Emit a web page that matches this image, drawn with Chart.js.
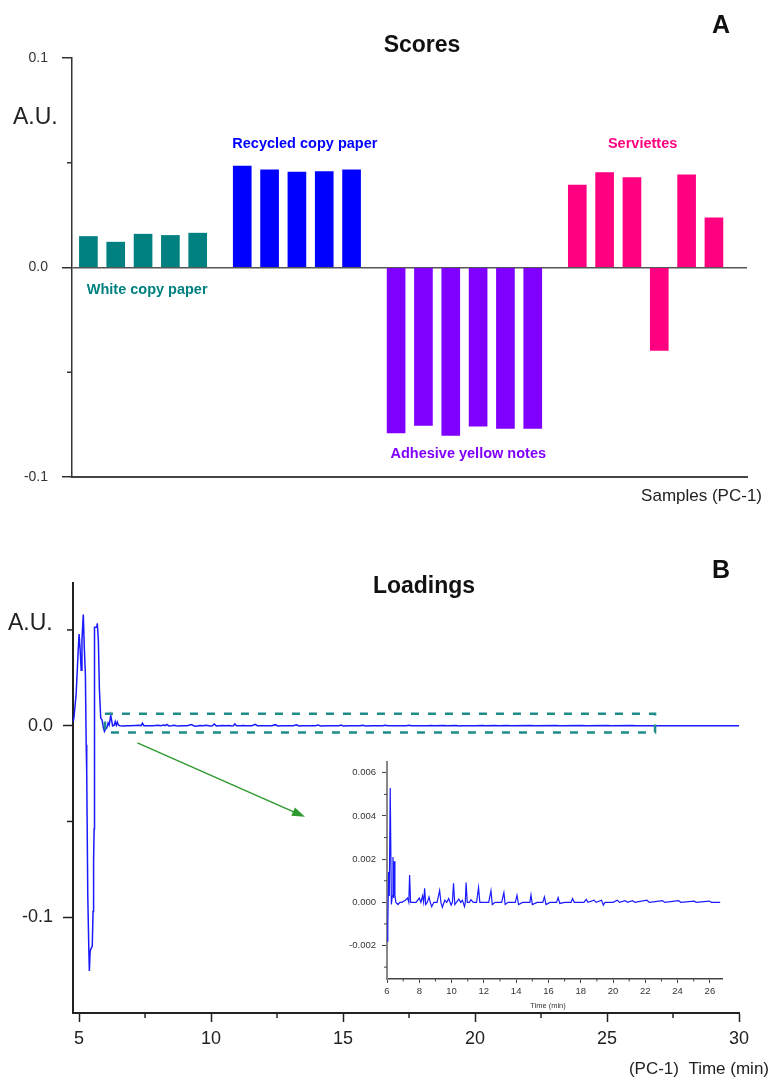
<!DOCTYPE html>
<html>
<head>
<meta charset="utf-8">
<script src="https://cdn.jsdelivr.net/npm/chart.js@4.4.1/dist/chart.umd.min.js"></script>
<style>
  body { margin: 0; background: #fff; }
  #wrap { position: relative; width: 771px; height: 1080px; }
  canvas { position: absolute; }
</style>
</head>
<body>
<div id="wrap">
  <canvas id="scores" width="771" height="510" style="left:0;top:0"></canvas>
  <canvas id="loadings" width="771" height="570" style="left:0;top:510px"></canvas>
  <canvas id="inset" width="400" height="265" style="left:330px;top:750px"></canvas>
</div>
<script>
// --- scores (PC-1), one array per sample group
var groupNames = ['White copy paper', 'Recycled copy paper', 'Adhesive yellow notes', 'Serviettes'];
var groupColors = ['#008080', '#0000ff', '#8000ff', '#ff0080'];
var whiteCopy = [0.0148, 0.0121, 0.0159, 0.0153, 0.0164];
var recycledCopy = [0.0484, 0.0466, 0.0455, 0.0458, 0.0466];
var adhesiveNotes = [-0.0790, -0.0754, -0.0802, -0.0757, -0.0768, -0.0768];
var serviettes = [0.0393, 0.0453, 0.0429, -0.0396, 0.0442, 0.0237];
var scoreTicks = [0.1, 0.0, -0.1];

// --- loadings (PC-1) vs time (min)
var earlyTime = [4.78, 4.81, 4.89, 4.97, 5.00, 5.04, 5.08, 5.11, 5.16, 5.20, 5.24, 5.27, 5.29, 5.33, 5.37, 5.39, 5.42, 5.50, 5.53, 5.55, 5.57, 5.58, 5.59, 5.67, 5.69, 5.73, 5.77, 5.82, 5.87, 5.92, 5.96];
var earlyValue = [0.002, 0.0048, 0.0167, 0.040, 0.0478, 0.040, 0.029, 0.045, 0.058, 0.040, 0.0266, -0.010, -0.0245, -0.089, -0.117, -0.128, -0.1175, -0.115, -0.097, -0.070, -0.054, -0.007, 0.0514, 0.0514, 0.0535, 0.045, 0.019, 0.004, 0.003, -0.001, -0.003];
var detailTime = [6.00, 6.05, 6.10, 6.14, 6.20, 6.27, 6.33, 6.37, 6.41, 6.45, 6.49, 6.55, 6.68, 6.80, 6.93, 7.13, 7.27, 7.35, 7.40, 7.46, 7.60, 7.80, 8.00, 8.10, 8.20, 8.27, 8.33, 8.40, 8.50, 8.60, 8.68, 8.77, 8.90, 9.10, 9.26, 9.34, 9.43, 9.58, 9.70, 9.82, 9.97, 10.05, 10.12, 10.20, 10.30, 10.45, 10.57, 10.67, 10.80, 10.85, 10.90, 10.97, 11.10, 11.20, 11.35, 11.55, 11.67, 11.75, 12.00, 12.30, 12.44, 12.52, 12.70, 13.10, 13.24, 13.32, 13.50, 13.95, 14.05, 14.15, 14.40, 14.85, 14.92, 15.00, 15.30, 15.65, 15.75, 15.85, 16.10, 16.50, 16.60, 16.70, 17.00, 17.40, 17.49, 17.60, 18.20, 18.34, 18.45, 18.82, 18.95, 19.29, 19.40, 19.50, 20.00, 20.27, 20.40, 20.75, 20.90, 21.20, 21.35, 22.10, 22.25, 23.07, 23.20, 24.06, 24.20, 25.03, 25.15, 25.96, 26.10, 26.64];
var detailValue = [-0.0018, -0.0011, 0.0014, 0.0003, 0.0053, -0.0001, 0.0003, 0.0021, 0.0002, 0.0019, 0.0003, 0.0, -0.0001, 0.0, 0.0, 0.0001, 0.0002, 0.0, 0.00126, 0.0, 0.0, 0.0, 0.0002, 0.0, 0.0003, 0.0, 0.00065, -0.0001, 0.0, 0.00025, 0.0, -0.0002, 0.0, 0.0, 0.00055, 0.0, -0.00023, 0.0001, 0.0, 0.00018, -0.00013, 0.0, 0.00088, -0.0001, 0.0, 0.00015, 0.0, 0.0001, -0.0002, 0.0, 0.00092, 0.0, 0.0, 0.00012, 0.0, 0.0, 0.00069, 0.0, 0.0, 0.0, 0.00054, -0.0001, 0.0, 0.0, 0.00045, -0.0001, 0.0, 0.0, 0.00033, -0.0001, 0.0, 0.0, 0.00034, -0.0001, 0.0, 0.0, 0.00025, -0.0001, 0.0, 0.0, 0.00022, -0.00005, 0.0, 0.0, 0.00018, 0.0, 0.0, 0.00014, 0.0, 0.0001, 0.0, 0.0001, -0.00013, 0.0, 0.0, 0.0001, 0.0, 0.00008, 0.0, 0.00008, 0.0, 0.0001, 0.0, 0.00008, 0.0, 0.00008, 0.0, 0.00006, 0.0, 0.00006, 0.0, 0.0];
var lateTime = [28, 30];
var lateValue = [0.0, 0.0];
var loadingTicks = [5, 10, 15, 20, 25, 30];

var FONT = '"Liberation Sans", Arial, sans-serif';
Chart.defaults.font.family = FONT;
Chart.defaults.color = '#222';
Chart.defaults.animation = false;
Chart.defaults.plugins.legend.display = false;
Chart.defaults.plugins.tooltip.enabled = false;

function near(v, list) {
  for (var i = 0; i < list.length; i++) if (Math.abs(v - list[i]) < 1e-9) return true;
  return false;
}
function pts(xs, ys) {
  return xs.map(function (x, i) { return { x: x, y: ys[i] }; });
}

// short ticks for the unlabelled steps
function minorTicks(spec) {
  return {
    id: 'minorTicks',
    afterDraw: function (chart) {
      var ctx = chart.ctx;
      Object.keys(spec).forEach(function (id) {
        var s = chart.scales[id], o = spec[id];
        ctx.save();
        ctx.strokeStyle = o.color;
        ctx.lineWidth = o.width;
        s.ticks.forEach(function (t) {
          if (o.major(t.value)) return;
          var p = s.getPixelForValue(t.value);
          ctx.beginPath();
          if (s.isHorizontal()) { ctx.moveTo(p, s.top); ctx.lineTo(p, s.top + o.len); }
          else { ctx.moveTo(s.right, p); ctx.lineTo(s.right - o.len, p); }
          ctx.stroke();
        });
        ctx.restore();
      });
    }
  };
}

function texts(list) {
  return {
    id: 'texts',
    afterDraw: function (chart) {
      var ctx = chart.ctx;
      list.forEach(function (t) {
        ctx.save();
        ctx.font = t.font;
        ctx.fillStyle = t.color || '#111';
        ctx.textAlign = t.align || 'left';
        ctx.textBaseline = 'alphabetic';
        var p = typeof t.at === 'function' ? t.at(chart) : t.at;
        ctx.fillText(t.text, p[0], p[1]);
        ctx.restore();
      });
    }
  };
}

// ---------- A: scores bar chart ----------
var groups = [whiteCopy, recycledCopy, adhesiveNotes, serviettes];
var firstPos = 0.6, gapAfter = 0.63;
var groupPos = [];
var start = firstPos;
groups.forEach(function (g) {
  groupPos.push(g.map(function (v, i) { return start + i; }));
  start += g.length + gapAfter;
});
var groupLabelX = [2.75, 8.52, 14.5, 20.88];
var groupLabelY = [-0.0125, 0.057, -0.0908, 0.057];

var scoreTexts = [
  { text: 'Scores', font: 'bold 23px ' + FONT, align: 'center', at: [422, 52] },
  { text: 'A', font: 'bold 25px ' + FONT, at: [712, 33] },
  { text: 'A.U.', font: '23px ' + FONT, color: '#222', at: [13, 124] },
  { text: 'Samples (PC-1)', font: '17px ' + FONT, color: '#222', align: 'right', at: [762, 501] }
];
groupNames.forEach(function (name, i) {
  scoreTexts.push({
    text: name, font: 'bold 14.5px ' + FONT, color: groupColors[i], align: 'center',
    at: function (c) { return [c.scales.x.getPixelForValue(groupLabelX[i]), c.scales.y.getPixelForValue(groupLabelY[i])]; }
  });
});

new Chart(document.getElementById('scores'), {
  type: 'bar',
  data: {
    datasets: groups.map(function (g, i) {
      return { label: groupNames[i], data: pts(groupPos[i], g), backgroundColor: groupColors[i], barThickness: 18, grouped: false };
    })
  },
  options: {
    responsive: false,
    layout: { padding: { top: 58, right: 24, left: 0, bottom: 0 } },
    scales: {
      x: {
        type: 'linear', min: 0, max: 24.7, offset: false,
        grid: { display: false, offset: false },
        ticks: { display: false },
        border: { display: true, color: '#444', width: 2 },
        afterFit: function (s) { s.height = 33; }
      },
      y: {
        min: -0.1, max: 0.1,
        ticks: {
          stepSize: 0.05, includeBounds: false, padding: 14, color: '#333', font: { size: 14 },
          callback: function (v) { return near(v, scoreTicks) ? v.toFixed(1) : ''; }
        },
        grid: {
          color: function (c) { return c.tick && Math.abs(c.tick.value) < 1e-9 ? '#555' : 'rgba(0,0,0,0)'; },
          lineWidth: 1.5,
          tickLength: 10, tickWidth: 1.5,
          tickColor: function (c) { return c.tick && near(c.tick.value, scoreTicks) ? '#333' : 'rgba(0,0,0,0)'; }
        },
        border: { display: true, color: '#333', width: 1.5 },
        afterFit: function (s) { s.width = 72; }
      }
    }
  },
  plugins: [
    minorTicks({ y: { len: 5, width: 1.5, color: '#333', major: function (v) { return near(v, scoreTicks); } } }),
    texts(scoreTexts)
  ]
});

// ---------- B: loadings line chart ----------
var mainLine = pts(earlyTime, earlyValue).concat(pts(detailTime, detailValue), pts(lateTime, lateValue));
var detailLine = pts(detailTime, detailValue);
var zoomBox = { x0: 5.98, x1: 26.82, y0: -0.0035, y1: 0.0063 };
var arrow = { x0: 7.21, y0: -0.009, x1: 13.56, y1: -0.0476 };

var annotate = {
  id: 'annotate',
  afterDatasetsDraw: function (chart) {
    var ctx = chart.ctx, x = chart.scales.x, y = chart.scales.y;
    var bx0 = x.getPixelForValue(zoomBox.x0), bx1 = x.getPixelForValue(zoomBox.x1);
    var by0 = y.getPixelForValue(zoomBox.y1), by1 = y.getPixelForValue(zoomBox.y0);
    ctx.save();
    ctx.strokeStyle = '#1f8c8a';
    ctx.lineWidth = 2.5;
    ctx.setLineDash([8, 9]);
    ctx.strokeRect(bx0, by0, bx1 - bx0, by1 - by0);
    ctx.setLineDash([]);
    var ax0 = x.getPixelForValue(arrow.x0), ay0 = y.getPixelForValue(arrow.y0);
    var ax1 = x.getPixelForValue(arrow.x1), ay1 = y.getPixelForValue(arrow.y1);
    var ang = Math.atan2(ay1 - ay0, ax1 - ax0);
    ctx.strokeStyle = '#2f9a2f';
    ctx.fillStyle = '#2f9a2f';
    ctx.lineWidth = 1.5;
    ctx.beginPath();
    ctx.moveTo(ax0, ay0);
    ctx.lineTo(ax1 - 10 * Math.cos(ang), ay1 - 10 * Math.sin(ang));
    ctx.stroke();
    ctx.beginPath();
    ctx.moveTo(ax1, ay1);
    ctx.lineTo(ax1 - 13 * Math.cos(ang) + 4.5 * Math.sin(ang), ay1 - 13 * Math.sin(ang) - 4.5 * Math.cos(ang));
    ctx.lineTo(ax1 - 13 * Math.cos(ang) - 4.5 * Math.sin(ang), ay1 - 13 * Math.sin(ang) + 4.5 * Math.cos(ang));
    ctx.closePath();
    ctx.fill();
    ctx.restore();
  }
};

new Chart(document.getElementById('loadings'), {
  type: 'line',
  data: {
    datasets: [{ data: mainLine, borderColor: '#1a1aff', borderWidth: 1.5, pointRadius: 0, tension: 0 }]
  },
  options: {
    responsive: false,
    layout: { padding: { top: 73, right: 32, left: 0, bottom: 0 } },
    scales: {
      x: {
        type: 'linear', min: 4.77, max: 30,
        ticks: {
          stepSize: 2.5, includeBounds: false, padding: 6, maxRotation: 0, autoSkip: false, color: '#222', font: { size: 18 },
          callback: function (v) { return near(v, loadingTicks) ? String(v) : ''; }
        },
        grid: {
          drawOnChartArea: false, tickLength: 9, tickWidth: 1.5,
          tickColor: function (c) { return c.tick && near(c.tick.value, loadingTicks) ? '#222' : 'rgba(0,0,0,0)'; }
        },
        border: { display: true, color: '#222', width: 2 },
        afterFit: function (s) { s.height = 67; }
      },
      y: {
        min: -0.15, max: 0.0745,
        ticks: {
          stepSize: 0.05, includeBounds: false, padding: 10, color: '#222', font: { size: 18 },
          callback: function (v) { return near(v, scoreTicks) ? v.toFixed(1) : ''; }
        },
        grid: {
          drawOnChartArea: false, tickLength: 10, tickWidth: 1.5,
          tickColor: function (c) { return c.tick && near(c.tick.value, scoreTicks) ? '#222' : 'rgba(0,0,0,0)'; }
        },
        border: { display: true, color: '#222', width: 2 },
        afterFit: function (s) { s.width = 73; }
      }
    }
  },
  plugins: [
    annotate,
    minorTicks({
      x: { len: 5, width: 1.5, color: '#222', major: function (v) { return near(v, loadingTicks); } },
      y: { len: 6, width: 1.5, color: '#222', major: function (v) { return near(v, scoreTicks); } }
    }),
    texts([
      { text: 'Loadings', font: 'bold 23px ' + FONT, align: 'center', at: [424, 83] },
      { text: 'B', font: 'bold 25px ' + FONT, at: [712, 68] },
      { text: 'A.U.', font: '23px ' + FONT, color: '#222', at: [8, 120] },
      { text: '(PC-1)  Time (min)', font: '17px ' + FONT, color: '#222', align: 'right', at: [769, 564] }
    ])
  ]
});

// ---------- inset: detail of the loadings after 6 min ----------
var insetMajorY = [0.006, 0.004, 0.002, 0.0, -0.002];
function evenMin(v) { return Math.abs(Math.round(v) - v) < 1e-9 && Math.round(v) % 2 === 0; }

new Chart(document.getElementById('inset'), {
  type: 'line',
  data: {
    datasets: [{ data: detailLine, borderColor: '#1a1aff', borderWidth: 1.2, pointRadius: 0, tension: 0 }]
  },
  options: {
    responsive: false,
    layout: { padding: { top: 12, right: 8, left: 0, bottom: 0 } },
    scales: {
      x: {
        type: 'linear', min: 6, max: 26.75,
        ticks: {
          stepSize: 1, includeBounds: false, padding: 3, maxRotation: 0, autoSkip: false, color: '#333', font: { size: 9.5 },
          callback: function (v) { return evenMin(v) ? String(v) : ''; }
        },
        grid: {
          drawOnChartArea: false, tickLength: 4, tickWidth: 1,
          tickColor: function (c) { return c.tick && evenMin(c.tick.value) ? '#444' : 'rgba(0,0,0,0)'; }
        },
        border: { display: true, color: '#444', width: 1.5 },
        afterFit: function (s) { s.height = 36; }
      },
      y: {
        min: -0.00355, max: 0.0065,
        ticks: {
          stepSize: 0.001, includeBounds: false, padding: 6, color: '#333', font: { size: 9.5 },
          callback: function (v) { return near(v, insetMajorY) ? v.toFixed(3) : ''; }
        },
        grid: {
          drawOnChartArea: false, tickLength: 5, tickWidth: 1,
          tickColor: function (c) { return c.tick && near(c.tick.value, insetMajorY) ? '#444' : 'rgba(0,0,0,0)'; }
        },
        border: { display: true, color: '#888', width: 2 },
        afterFit: function (s) { s.width = 57; }
      }
    }
  },
  plugins: [
    minorTicks({
      x: { len: 2.5, width: 1, color: '#444', major: evenMin },
      y: { len: 3, width: 1, color: '#444', major: function (v) { return near(v, insetMajorY); } }
    }),
    texts([
      { text: 'Time (min)', font: '7.5px ' + FONT, color: '#333', align: 'center', at: [218, 258] }
    ])
  ]
});
</script>
</body>
</html>
